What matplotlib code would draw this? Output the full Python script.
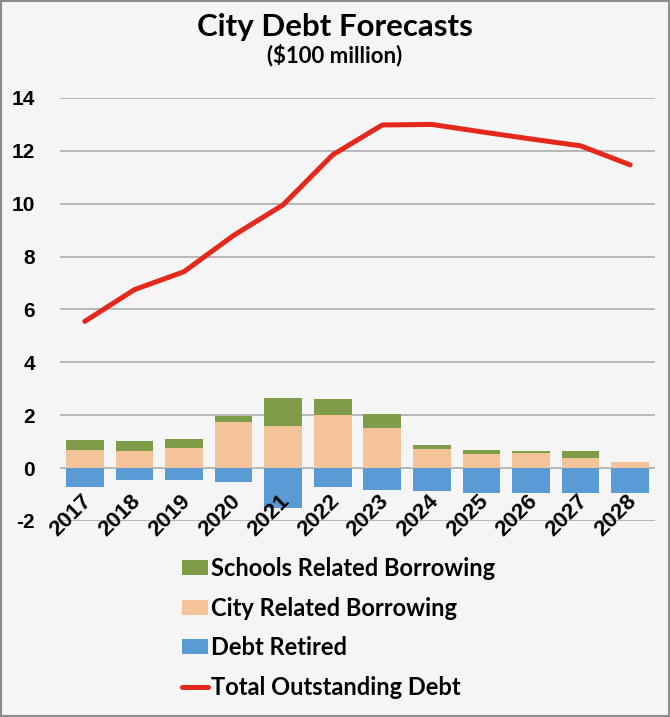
import matplotlib.pyplot as plt
from matplotlib.patches import Rectangle
import numpy as np

years = ["2017", "2018", "2019", "2020", "2021", "2022",
         "2023", "2024", "2025", "2026", "2027", "2028"]
city_borrowing = [0.67, 0.63, 0.75, 1.76, 1.60, 2.00, 1.51, 0.73, 0.54, 0.59, 0.38, 0.25]
schools_borrowing = [0.39, 0.41, 0.34, 0.20, 1.05, 0.60, 0.53, 0.14, 0.14, 0.05, 0.25, 0.0]
debt_retired = [-0.73, -0.44, -0.44, -0.54, -1.52, -0.73, -0.83, -0.88, -0.93, -0.93, -0.93, -0.93]
total_debt = [5.55, 6.75, 7.43, 8.80, 9.96, 11.85, 12.98, 13.00, 12.72, 12.45, 12.19, 11.47]
y_ticks = [-2, 0, 2, 4, 6, 8, 10, 12, 14]

c_green = "#7f9c48"
c_peach = "#f4c39a"
c_blue = "#5b9bd5"
c_red = "#e5281c"
bg = "#f5f5f5"

fig = plt.figure(figsize=(6.7, 7.17), dpi=100, facecolor=bg)
ax = fig.add_axes([60 / 670, 1 - 521 / 717, 595 / 670, 423 / 717])
ax.set_facecolor(bg)

x = np.arange(len(years))
w = 0.76
ax.bar(x, debt_retired, w, color=c_blue, label="Debt Retired", zorder=2)
ax.bar(x, city_borrowing, w, color=c_peach, label="City Related Borrowing", zorder=2)
ax.bar(x, schools_borrowing, w, bottom=city_borrowing, color=c_green,
       label="Schools Related Borrowing", zorder=2)
ax.plot(x, total_debt, color=c_red, lw=3.6, solid_capstyle="round",
        label="Total Outstanding Debt", zorder=3)

ax.set_xlim(-0.5, len(years) - 0.5)
ax.set_ylim(-2, 14)
ax.set_yticks(y_ticks)
ax.set_yticklabels([str(t) for t in y_ticks], fontsize=15, fontweight="bold",
                   family="Liberation Sans")
ax.tick_params(axis="y", length=0, pad=18)
ax.set_xticks([])
ax.grid(axis="y", color="#a6a6a6", lw=1.1, zorder=1)
for s in ax.spines.values():
    s.set_visible(False)

# year labels sit at 45 degrees, ending just under each bar
for i, yr in enumerate(years):
    ax.text(i - 0.08, -0.86, yr, rotation=45, ha="right", va="top",
            rotation_mode="anchor", fontsize=16, fontweight="bold",
            family="Liberation Sans", zorder=4)

fig.text(0.5, 0.962, "City Debt Forecasts", ha="center", va="center",
         fontsize=22.5, fontweight="bold", family="Lato")
fig.text(0.5, 0.923, "($100 million)", ha="center", va="center",
         fontsize=16, fontweight="bold", family="Lato")

h, l = ax.get_legend_handles_labels()
order = [3, 2, 1, 0]
leg = fig.legend([h[k] for k in order], [l[k] for k in order],
                 loc="upper left", bbox_to_anchor=(161 / 670, 1 - 536 / 717),
                 frameon=False, handlelength=1.1, handleheight=0.6,
                 handletextpad=0.13, labelspacing=0.7,
                 prop={"family": "Lato", "weight": "bold", "size": 17})

fig.patches.append(Rectangle((0.002, 0.002), 0.996, 0.996, transform=fig.transFigure,
                             fill=False, edgecolor="#8c8c8c", lw=1.5))

fig.savefig("out.png", dpi=100, facecolor=bg)
